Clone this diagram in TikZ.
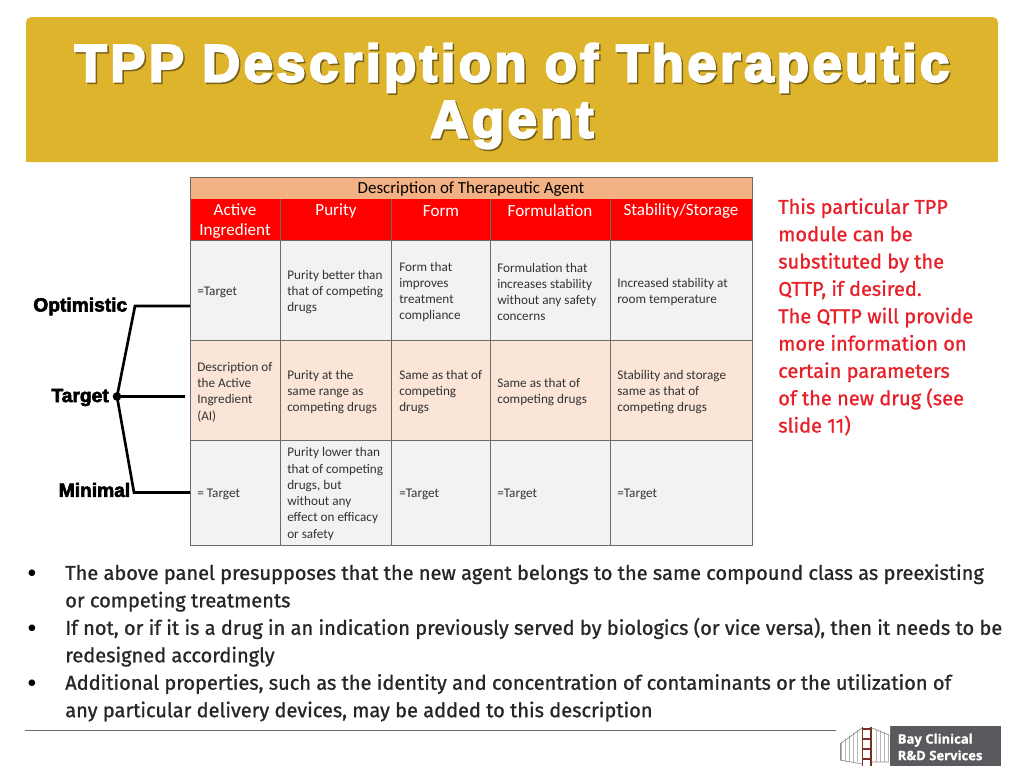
\documentclass[tikz,border=0pt]{standalone}
\usepackage{fontspec}
\setmainfont{Carlito}
\newfontfamily\titlefont[FakeBold=4,LetterSpace=6.6]{Liberation Sans Bold}
\newfontfamily\labelfont[FakeBold=3]{Liberation Sans Bold}
\newfontfamily\sidefont[FakeBold=1]{Fira Sans}
\newfontfamily\logofont[FakeBold=1]{Open Sans Bold}
\usetikzlibrary{calc}
\definecolor{headgold}{HTML}{DDB42C}
\definecolor{headpeach}{HTML}{F4B183}
\definecolor{rowgray}{HTML}{F2F2F2}
\definecolor{rowpeach}{HTML}{FBE5D6}
\definecolor{gridgray}{HTML}{6E6A68}
\definecolor{notered}{HTML}{E8202A}
\definecolor{logogray}{HTML}{5A5A5E}
\definecolor{towerred}{HTML}{7A3028}
\tikzset{
	cell/.style={anchor=west, align=left, inner sep=0pt, font=\fontsize{9.9}{12.2}\selectfont, text=black!80},
	headcell/.style={anchor=center, align=center, text=white, font=\fontsize{12.8}{15.4}\selectfont},
	levellabel/.style={anchor=east, font=\labelfont\fontsize{14.4}{16}\selectfont, inner sep=0pt},
	fork/.style={line width=2pt, color=black},
}
\def\gridrow#1#2#3{\fill[#1] (190, #2) rectangle (752, #3);}

\begin{document}
\begin{tikzpicture}[x=0.75pt, y=-0.75pt]
			%%%%% START %%%%%
			\useasboundingbox (0, 0) rectangle (1024, 768);
			\fill[white] (0, 0) rectangle (1024, 768);

			\fill[headgold, rounded corners=4pt] (26, 17) -- (998, 17) -- (998, 162) -- (26, 162) -- cycle;
			\fill[headgold] (26, 40) rectangle (998, 162);
			\node[text=black!45!headgold, align=center, font=\titlefont\fontsize{39.5}{42}\selectfont] at (513.5, 97.5) {TPP Description of Therapeutic\\Agent};
			\node (title) [text=white, align=center, font=\titlefont\fontsize{39.5}{42}\selectfont] at (512, 96) {TPP Description of Therapeutic\\Agent};

			%%%%% table %%%%%
			\gridrow{headpeach}{177.5}{199}
			\gridrow{red}{199}{240}
			\gridrow{rowgray}{240}{340}
			\gridrow{rowpeach}{340}{440}
			\gridrow{rowgray}{440}{545}
			\draw[gridgray, line width=0.6pt] (190, 177.5) rectangle (752, 545);
			\draw[gridgray, line width=0.6pt] (190, 240) -- (752, 240);
			\draw[gridgray, line width=0.6pt] (190, 340) -- (752, 340);
			\draw[gridgray, line width=0.6pt] (190, 440) -- (752, 440);
			\foreach \colx in {280.5, 391.5, 490, 610.5} {
				\draw[gridgray, line width=0.6pt] (\colx, 199) -- (\colx, 545);
			}

			\node (caption) [font=\fontsize{12.7}{14}\selectfont] at (471, 189) {Description of Therapeutic Agent};
			\node (active) [headcell] at (235, 221) {Active\\Ingredient};
			\node (purity) [headcell] at (336, 211) {Purity};
			\node (form) [headcell] at (441, 211) {Form};
			\node (formulation) [headcell] at (550, 211) {Formulation};
			\node (stability) [headcell] at (681, 211) {Stability/Storage};

			\node (a1) [cell] at (197, 292) {=Target};
			\node (b1) [cell] at (287, 292) {Purity better than\\that of competing\\drugs};
			\node (c1) [cell] at (399, 292) {Form that\\improves\\treatment\\compliance};
			\node (d1) [cell] at (497, 292) {Formulation that\\increases stability\\without any safety\\concerns};
			\node (e1) [cell] at (617, 292) {Increased stability at\\room temperature};

			\node (a2) [cell] at (197, 392) {Description of\\the Active\\Ingredient\\(AI)};
			\node (b2) [cell] at (287, 392) {Purity at the\\same range as\\competing drugs};
			\node (c2) [cell] at (399, 392) {Same as that of\\competing\\drugs};
			\node (d2) [cell] at (497, 392) {Same as that of\\competing drugs};
			\node (e2) [cell] at (617, 392) {Stability and storage\\same as that of\\competing drugs};

			\node (a3) [cell] at (197, 494) {= Target};
			\node (b3) [cell] at (287, 494) {Purity lower than\\that of competing\\drugs, but\\without any\\effect on efficacy\\or safety};
			\node (c3) [cell] at (399, 494) {=Target};
			\node (d3) [cell] at (497, 494) {=Target};
			\node (e3) [cell] at (617, 494) {=Target};

			%%%%% fork %%%%%
			\node (optimistic) [levellabel] at (127.5, 306.5) {Optimistic};
			\node (target) [levellabel] at (109, 397.5) {Target};
			\node (minimal) [levellabel] at (130.5, 490) {Minimal};
			\coordinate (optbend) at (135, 306);
			\coordinate (minbend) at (134, 492.5);
			\coordinate (optend) at (190, 306);
			\coordinate (tarend) at (185, 396.5);
			\coordinate (minend) at (190, 492.5);
			\node (hub) [circle, fill=black, inner sep=0pt, minimum size=6.5pt] at (117, 396.5) {};
			\draw[fork] (optend) -- (optbend) -- (hub.center) -- (minbend) -- (minend);
			\draw[fork] (hub.center) -- (tarend);

			%%%%% side note %%%%%
			\node (sidenote) [anchor=north west, align=left, inner sep=0pt, text=notered, font=\sidefont\fontsize{15}{20.5}\selectfont] at (778, 198) {This particular TPP\\module can be\\substituted by the\\QTTP, if desired.\\The QTTP will provide\\more information on\\certain parameters\\of the new drug (see\\slide 11)};

			%%%%% bullets %%%%%
			\node (dota) at (32, 574) {\fontsize{14}{16}\selectfont\textbullet};
			\node (dotb) at (32, 629) {\fontsize{14}{16}\selectfont\textbullet};
			\node (dotc) at (32, 684) {\fontsize{14}{16}\selectfont\textbullet};
			\node (bullets) [anchor=north west, align=left, inner sep=0pt, text=black!85, font=\sidefont\fontsize{15}{20.6}\selectfont] at (65, 564) {The above panel presupposes that the new agent belongs to the same compound class as preexisting\\or competing treatments\\If not, or if it is a drug in an indication previously served by biologics (or vice versa), then it needs to be\\redesigned accordingly\\Additional properties, such as the identity and concentration of contaminants or the utilization of\\any particular delivery devices, may be added to this description};

			%%%%% footer %%%%%
			\draw[gridgray, line width=0.7pt] (25, 730.5) -- (836, 730.5);

			\fill[logogray] (890, 726) rectangle (1001, 766);
			\node (logo) [anchor=west, align=left, inner sep=0pt, text=white, font=\logofont\fontsize{9.8}{12.4}\selectfont] at (897.5, 747) {Bay Clinical\\R\&D Services};

			% bridge
			\foreach \cablex in {841, 845, 849, 853, 857, 876, 880, 884, 888} {
				\draw[black!28, line width=0.4pt] (\cablex, 730) -- (\cablex, 762);
			}
			\fill[white] (838, 726) -- (862, 726) -- (838, 744) -- cycle;
			\fill[white] (872, 726) -- (890, 726) -- (890, 735) -- cycle;
			\fill[white] (838, 760) -- (862, 767) -- (838, 767) -- cycle;
			\draw[black!45, line width=0.5pt] (840, 744) -- (862, 728) (840, 760) -- (862, 764);
			\draw[black!45, line width=0.5pt] (840, 744) -- (840, 760);
			\draw[black!45, line width=0.5pt] (872, 728) -- (889, 735) (872, 762) -- (889, 762);
			\draw[towerred, line width=1.4pt] (862.5, 727) -- (862.5, 766);
			\draw[towerred, line width=1.4pt] (871, 727) -- (871, 766);
			\foreach \beamy in {729, 739, 749, 759} {
				\draw[towerred, line width=1.4pt] (862.5, \beamy) -- (871, \beamy);
			}
			%%%%% END %%%%%
		\end{tikzpicture}
\end{document}
